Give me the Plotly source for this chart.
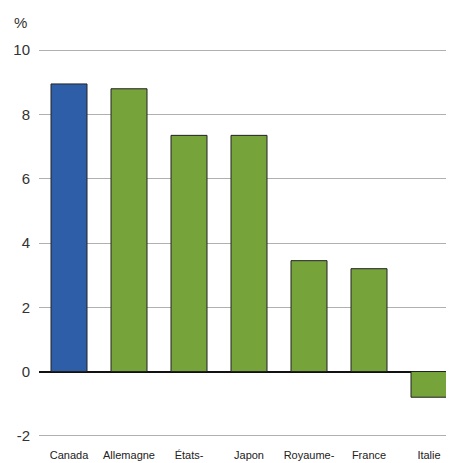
import plotly.graph_objects as go

categories = ["Canada", "Allemagne", "États-", "Japon", "Royaume-", "France", "Italie"]
values = [8.95, 8.8, 7.35, 7.35, 3.45, 3.2, -0.8]
colors = ["#2e5ea8", "#76a33a", "#76a33a", "#76a33a", "#76a33a", "#76a33a", "#76a33a"]
y_ticks = [-2, 0, 2, 4, 6, 8, 10]
y_tick_text = ["-2", "0", "2", "4", "6", "8", "10"]

# page body has an 8px default margin; compensate so the plot area lands where the reference has it
W, H = 446, 455
L, R, T, B = 31, 0, 39, 24
plot_w = W - L - R
plot_h = H - T - B

fig = go.Figure()
fig.add_trace(go.Bar(
    x=list(range(len(categories))), y=values,
    marker=dict(color=colors, line=dict(color="#222222", width=1)),
    width=0.6,
))
fig.update_layout(
    width=W, height=H,
    margin=dict(l=L, r=R, t=T, b=B, autoexpand=False),
    plot_bgcolor="white", paper_bgcolor="white",
    showlegend=False,
    font=dict(family="Liberation Sans, Arial, sans-serif", color="#222222"),
    xaxis=dict(
        tickmode="array", tickvals=list(range(len(categories))), ticktext=categories,
        range=[-0.5, -0.5 + plot_w / 60.0], showgrid=False, zeroline=False, showline=False,
        tickfont=dict(size=11), ticks="", ticklen=0, ticklabelstandoff=8,
    ),
    yaxis=dict(
        range=[-2.1, 10.1], tickmode="array", tickvals=y_ticks, ticktext=y_tick_text,
        showgrid=True, gridcolor="#b0b0b0", gridwidth=1,
        zeroline=True, zerolinecolor="#111111", zerolinewidth=2,
        tickfont=dict(size=15, color="#333333"), ticks="", ticklabelstandoff=8,
    ),
    annotations=[dict(text="%", x=(4 - L) / plot_w, y=1 + (T - 14) / plot_h,
                      xref="paper", yref="paper",
                      xanchor="left", yanchor="middle", showarrow=False,
                      font=dict(size=15, color="#333333"))],
)
fig.write_html("out.html")
